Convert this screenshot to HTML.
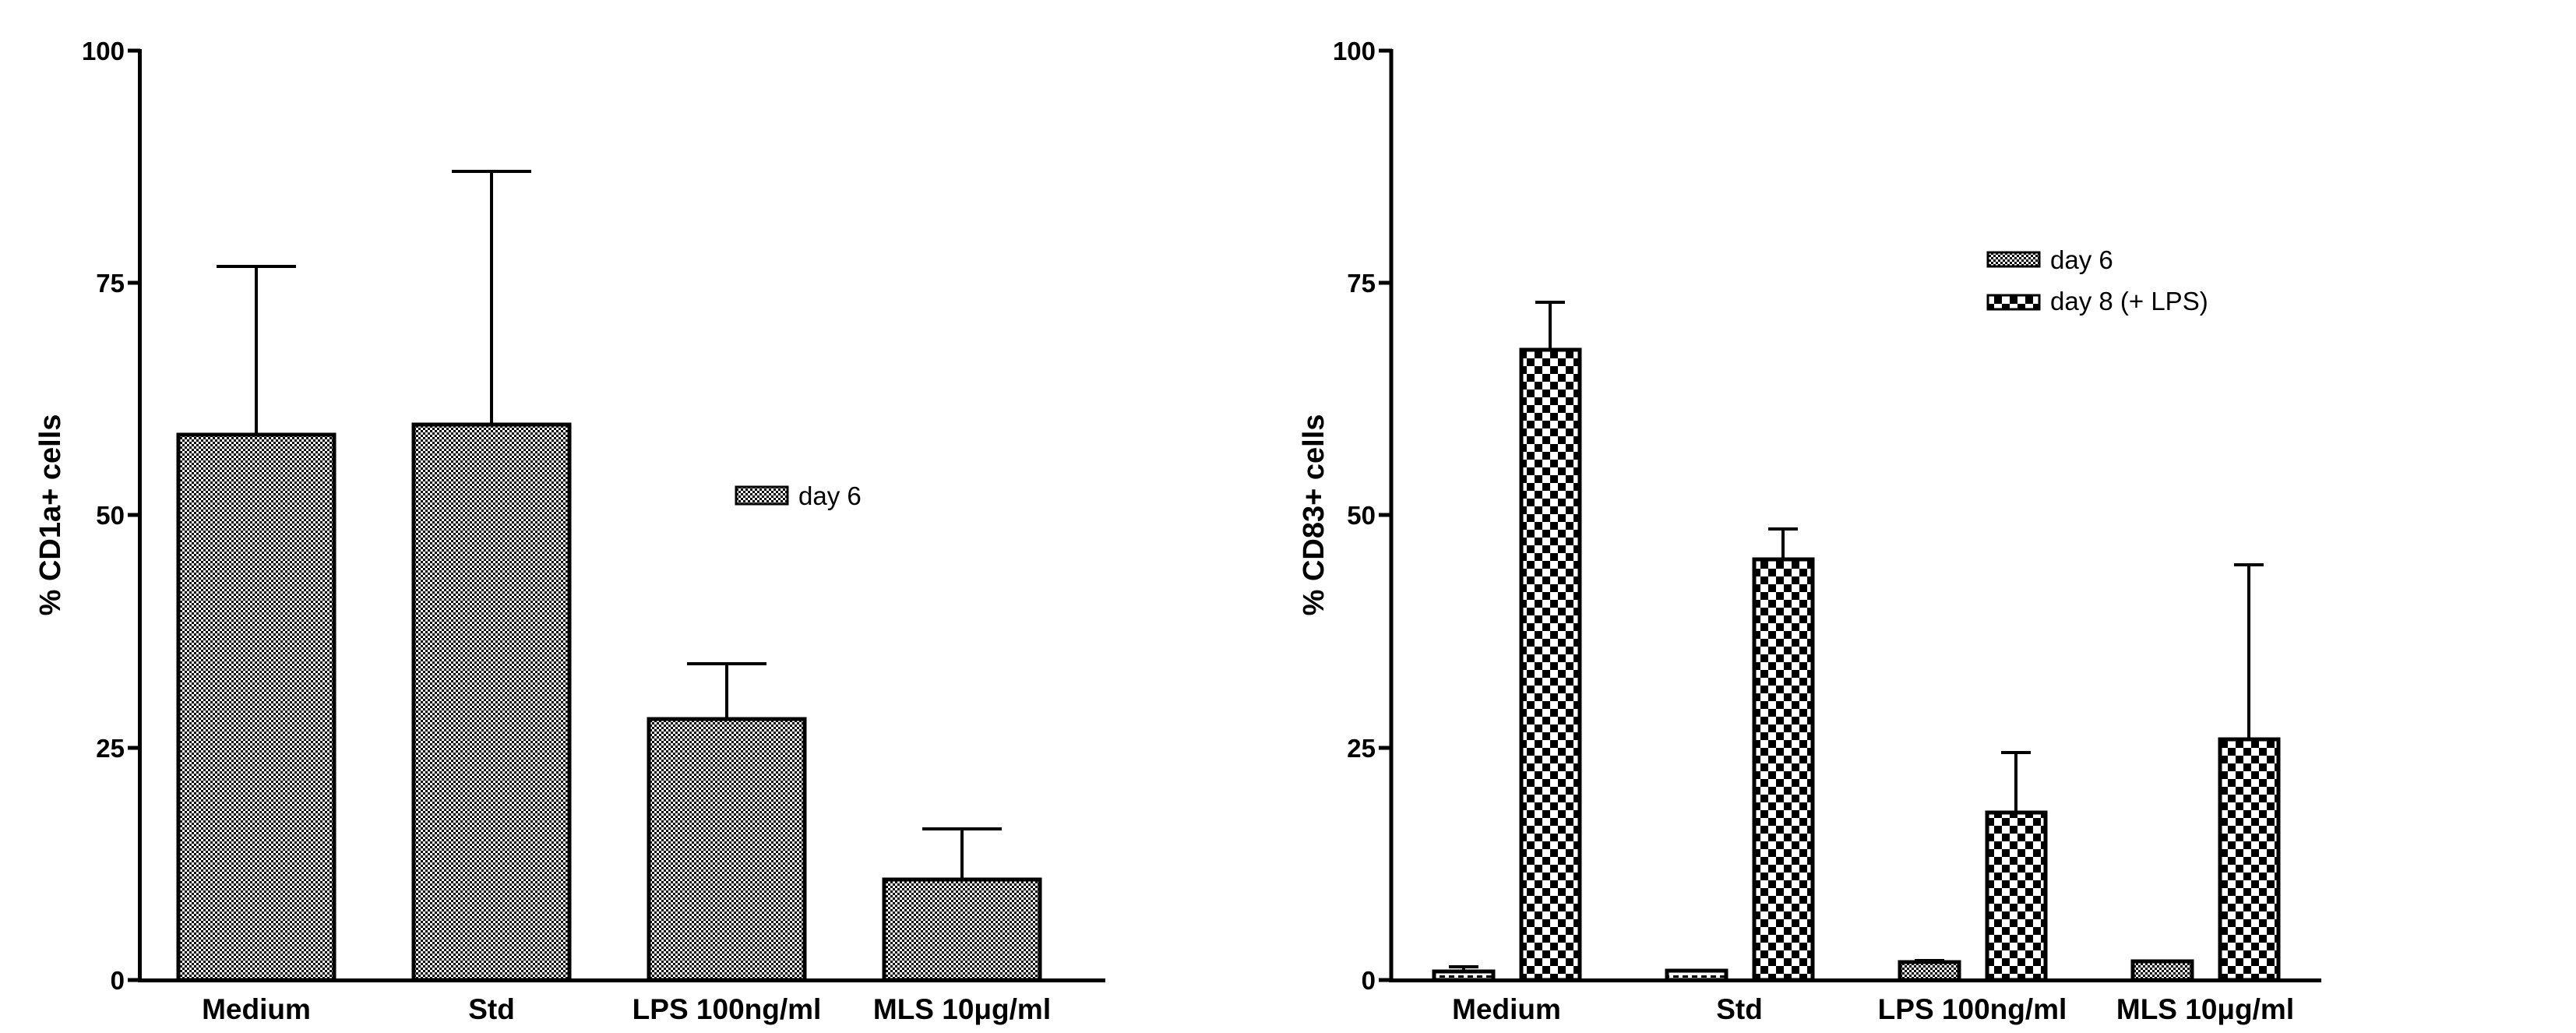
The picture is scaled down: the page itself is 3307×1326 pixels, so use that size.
<!DOCTYPE html>
<html><head><meta charset="utf-8"><style>html,body{margin:0;padding:0;background:#fff}svg{display:block}</style></head>
<body>
<svg width="3307" height="1326" viewBox="0 0 3307 1326" xmlns="http://www.w3.org/2000/svg" font-family="Liberation Sans, Arial, sans-serif">
<defs>
<pattern id="fine" width="6" height="6" patternUnits="userSpaceOnUse"><rect width="6" height="6" fill="#fff"/><rect width="3" height="3" fill="#000"/><rect x="3" y="3" width="3" height="3" fill="#000"/></pattern>
<pattern id="big" width="20" height="20" patternUnits="userSpaceOnUse"><rect width="20" height="20" fill="#fff"/><rect width="10" height="10" fill="#000"/><rect x="10" y="10" width="10" height="10" fill="#000"/></pattern>
<pattern id="dot" width="12" height="12" patternUnits="userSpaceOnUse"><rect width="12" height="12" fill="#fff"/><rect x="0" y="4" width="7" height="3" fill="#000"/></pattern>
</defs>
<g stroke="#000" fill="none" stroke-width="5">
<line x1="179.5" y1="63" x2="179.5" y2="1261"/>
<line x1="177" y1="1258.5" x2="1419" y2="1258.5"/>
<line x1="164" y1="65" x2="180" y2="65"/>
<line x1="164" y1="363" x2="180" y2="363"/>
<line x1="164" y1="661" x2="180" y2="661"/>
<line x1="164" y1="960" x2="180" y2="960"/>
<line x1="164" y1="1258" x2="180" y2="1258"/>
<line x1="1786" y1="63" x2="1786" y2="1261"/>
<line x1="1783" y1="1258.5" x2="2980" y2="1258.5"/>
<line x1="1770" y1="65" x2="1787" y2="65"/>
<line x1="1770" y1="363" x2="1787" y2="363"/>
<line x1="1770" y1="661" x2="1787" y2="661"/>
<line x1="1770" y1="960" x2="1787" y2="960"/>
<line x1="1770" y1="1258" x2="1787" y2="1258"/>
</g>
<g stroke="#000" stroke-width="4">
<line x1="329" y1="558" x2="329" y2="342"/><line x1="278" y1="342" x2="380" y2="342"/>
<line x1="631" y1="545" x2="631" y2="220"/><line x1="580" y1="220" x2="682" y2="220"/>
<line x1="933" y1="923" x2="933" y2="852"/><line x1="882" y1="852" x2="984" y2="852"/>
<line x1="1235" y1="1129" x2="1235" y2="1064"/><line x1="1184" y1="1064" x2="1286" y2="1064"/>
<line x1="1879" y1="1247" x2="1879" y2="1241"/><line x1="1860" y1="1241" x2="1898" y2="1241"/>
<line x1="2477" y1="1235" x2="2477" y2="1233"/><line x1="2458" y1="1233" x2="2496" y2="1233"/>
<line x1="1990" y1="449" x2="1990" y2="388"/><line x1="1971" y1="388" x2="2009" y2="388"/>
<line x1="2289" y1="718" x2="2289" y2="679"/><line x1="2270" y1="679" x2="2308" y2="679"/>
<line x1="2588" y1="1043" x2="2588" y2="966"/><line x1="2569" y1="966" x2="2607" y2="966"/>
<line x1="2887" y1="949" x2="2887" y2="725"/><line x1="2868" y1="725" x2="2906" y2="725"/>
</g>
<g stroke="#000" stroke-width="5" fill="url(#fine)">
<rect x="229" y="558" width="200" height="700"/>
<rect x="531" y="545" width="200" height="713"/>
<rect x="833" y="923" width="200" height="335"/>
<rect x="1135" y="1129" width="200" height="129"/>
</g>
<g stroke="#000" stroke-width="5">
<rect x="1841" y="1247" width="76" height="11" fill="url(#dot)"/>
<rect x="2140" y="1246" width="76" height="12" fill="url(#dot)"/>
<rect x="2439" y="1235" width="76" height="23" fill="url(#fine)"/>
<rect x="2738" y="1234" width="76" height="24" fill="url(#fine)"/>
<rect x="1953" y="449" width="75" height="809" fill="url(#big)"/>
<rect x="2252" y="718" width="75" height="540" fill="url(#big)"/>
<rect x="2551" y="1043" width="75" height="215" fill="url(#big)"/>
<rect x="2850" y="949" width="75" height="309" fill="url(#big)"/>
</g>
<rect x="945" y="625" width="66" height="22" fill="url(#fine)" stroke="#000" stroke-width="3"/>
<text x="1025" y="648" font-size="33">day 6</text>
<rect x="2552" y="324" width="66" height="18" fill="url(#fine)" stroke="#000" stroke-width="3"/>
<text x="2632" y="345" font-size="33">day 6</text>
<rect x="2552" y="379" width="66" height="18" fill="url(#big)" stroke="#000" stroke-width="3"/>
<text x="2632" y="398" font-size="33">day 8 (+ LPS)</text>
<g font-size="33" font-weight="bold" text-anchor="end">
<text x="160" y="77">100</text><text x="160" y="375">75</text><text x="160" y="673">50</text><text x="160" y="972">25</text><text x="160" y="1270">0</text>
<text x="1766" y="77">100</text><text x="1766" y="375">75</text><text x="1766" y="673">50</text><text x="1766" y="972">25</text><text x="1766" y="1270">0</text>
</g>
<g font-size="37" font-weight="bold" text-anchor="middle">
<text x="329" y="1308">Medium</text><text x="631" y="1308">Std</text><text x="933" y="1308">LPS 100ng/ml</text><text x="1235" y="1308">MLS 10μg/ml</text>
<text x="1934" y="1308">Medium</text><text x="2233" y="1308">Std</text><text x="2532" y="1308">LPS 100ng/ml</text><text x="2831" y="1308">MLS 10μg/ml</text>
</g>
<g font-size="38" font-weight="bold" text-anchor="middle">
<text transform="translate(77,661) rotate(-90)">% CD1a+ cells</text>
<text transform="translate(1699,661) rotate(-90)">% CD83+ cells</text>
</g>
</svg>
</body></html>
